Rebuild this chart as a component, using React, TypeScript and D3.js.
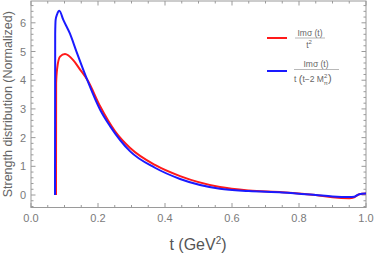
import React from "react";
import * as d3 from "d3";

const tRed = [0.0746, 0.0750, 0.078, 0.0866, 0.1015, 0.126, 0.146, 0.169, 0.206, 0.251, 0.296, 0.37, 0.445, 0.564, 0.65, 0.75, 0.85, 0.9, 0.95, 0.965, 0.98, 1.0];
const redValues = [0, 3.9, 4.4, 4.82, 4.91, 4.7, 4.38, 4.0, 3.1, 2.22, 1.64, 1.05, 0.66, 0.28, 0.16, 0.1, 0.0, -0.08, -0.11, -0.08, 0.03, 0.05];
const tBlue = [0.0716, 0.0722, 0.0735, 0.078, 0.0846, 0.0965, 0.116, 0.136, 0.169, 0.206, 0.236, 0.296, 0.37, 0.445, 0.564, 0.65, 0.75, 0.85, 0.9, 0.95, 0.965, 0.98, 1.0];
const blueValues = [0, 5.6, 6.1, 6.3, 6.42, 6.1, 5.63, 4.99, 3.98, 2.98, 2.4, 1.52, 0.95, 0.56, 0.22, 0.14, 0.09, 0.0, -0.05, -0.07, -0.06, 0.03, 0.05];
const xTicks = [0, 0.2, 0.4, 0.6, 0.8, 1.0];
const xTickLabels = ["0.0", "0.2", "0.4", "0.6", "0.8", "1.0"];
const yTicks = [0, 1, 2, 3, 4, 5, 6];

const W = 374, H = 256;
const L = 31, R = 366, T = 1, B = 207.5;
const FONT = "Liberation Sans, Arial, sans-serif";
const AXIS = "#9a9a9a";
const LABEL = "#7a7a7a";

export default function App() {
  const x = d3.scaleLinear().domain([0, 1]).range([L, R]);
  const y = d3.scaleLinear().domain([-0.435, 6.76]).range([B, T]);
  const line = d3.line<[number, number]>().x(d => x(d[0])).y(d => y(d[1])).curve(d3.curveMonotoneX);
  const redPts = tRed.map((t, i) => [t, redValues[i]] as [number, number]);
  const bluePts = tBlue.map((t, i) => [t, blueValues[i]] as [number, number]);

  const xMinor = d3.range(0, 1.0001, 0.05);
  const yMinor = d3.range(-0.4, 6.7, 0.2);

  return (
    <svg width={W} height={H} style={{ position: "absolute", left: 0, top: 0 }} fontFamily={FONT}>
      <rect width={W} height={H} fill="white" />
      <rect x={L} y={T} width={R - L} height={B - T} fill="none" stroke={AXIS} strokeWidth={1} />
      {xMinor.map((v, i) => {
        const major = xTicks.some(t => Math.abs(t - v) < 1e-6);
        const len = major ? 4.5 : 2.5;
        return (
          <g key={"xt" + i}>
            <line x1={x(v)} x2={x(v)} y1={B} y2={B - len} stroke={AXIS} />
            <line x1={x(v)} x2={x(v)} y1={T} y2={T + len} stroke={AXIS} />
          </g>
        );
      })}
      {xTicks.map((v, i) => (
        <text key={"xl" + i} x={x(v)} y={221.5} fontSize={11} fill={LABEL} textAnchor="middle">{xTickLabels[i]}</text>
      ))}
      {yMinor.map((v, i) => {
        const major = yTicks.some(t => Math.abs(t - v) < 1e-6);
        const len = major ? 4.5 : 2.5;
        return (
          <g key={"yt" + i}>
            <line x1={L} x2={L + len} y1={y(v)} y2={y(v)} stroke={AXIS} />
            <line x1={R} x2={R - len} y1={y(v)} y2={y(v)} stroke={AXIS} />
          </g>
        );
      })}
      {yTicks.map((v, i) => (
        <text key={"yl" + i} x={26} y={y(v) + 4} fontSize={11} fill={LABEL} textAnchor="end">{v}</text>
      ))}
      <path d={line(redPts) || ""} fill="none" stroke="#ff1a1a" strokeWidth={2} strokeLinejoin="round" />
      <path d={line(bluePts) || ""} fill="none" stroke="#1a1aff" strokeWidth={2} strokeLinejoin="round" />
      <text x={198} y={250} fontSize={16} fill="#555" textAnchor="middle">
        t (GeV<tspan dy={-6} fontSize={10}>2</tspan><tspan dy={6}>)</tspan>
      </text>
      <text transform={`translate(12,${(T + B) / 2}) rotate(-90)`} fontSize={12.5} fill="#666" textAnchor="middle">
        Strength distribution (Normalized)
      </text>
      <line x1={267} x2={287} y1={38} y2={38} stroke="#ff1a1a" strokeWidth={2} />
      <text x={310} y={35.5} fontSize={8.5} fill="#666" textAnchor="middle">Imσ (t)</text>
      <line x1={295} x2={325} y1={38} y2={38} stroke="#888" strokeWidth={0.6} />
      <text x={309} y={47.5} fontSize={8.5} fill="#666" textAnchor="middle">t<tspan dy={-3.5} fontSize={6}>2</tspan></text>

      <line x1={267} x2={287} y1={71} y2={71} stroke="#1a1aff" strokeWidth={2} />
      <text x={316} y={67} fontSize={8.5} fill="#666" textAnchor="middle">Imσ (t)</text>
      <line x1={294} x2={339} y1={69.5} y2={69.5} stroke="#888" strokeWidth={0.6} />
      <text x={294} y={81.5} fontSize={8.5} fill="#666">
        t <tspan fontSize={11} dy={1}>(</tspan><tspan dy={-1}>t−2 M</tspan><tspan dy={-3.5} fontSize={6}>2</tspan><tspan dx={-3.5} dy={6.5} fontSize={6}>π</tspan><tspan dy={-3} fontSize={11}>)</tspan>
      </text>
    </svg>
  );
}
